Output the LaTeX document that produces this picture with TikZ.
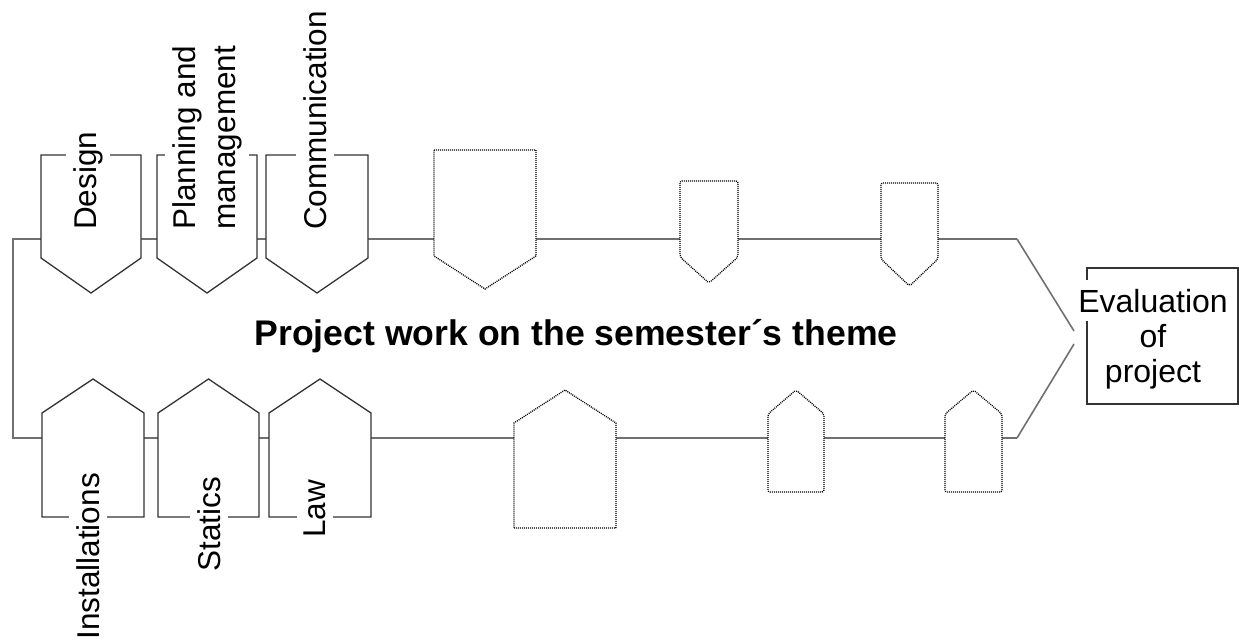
\documentclass[tikz,border=0pt]{standalone}
\usepackage{fontspec}
\setmainfont{Liberation Sans}
\definecolor{trackgray}{HTML}{707070}
\definecolor{edgegray}{HTML}{333333}
% pentagon tag: style, left, right, flat end, shoulder, point
\newcommand{\tagshape}[6]{
  \draw[#1] (#2,#4) -- (#3,#4) -- (#3,#5) -- ({(#2+#3)/2},#6) -- (#2,#5) -- cycle;
}
\tikzset{
  track/.style={draw=trackgray, line width=2.6pt},
  solidtag/.style={draw=edgegray, fill=white, line width=1.3pt},
  dottag/.style={draw=black, fill=white, line width=1.3pt, dash pattern=on 1pt off 1pt},
  lbl/.style={rotate=90, fill=white, inner sep=7pt, font=\fontsize{31.5}{40}\selectfont}
}

\begin{document}
\begin{tikzpicture}[x=1pt, y=-1pt]
    \useasboundingbox (0,0) rectangle (1239,643);
    % track
    \coordinate (tl) at (13,239);
    \coordinate (tr) at (1017,239);
    \coordinate (bl) at (13,438);
    \coordinate (br) at (1017,438);
    \coordinate (tipa) at (1074,331);
    \coordinate (tipb) at (1074,344);
    \draw[track, line join=miter] (tr) -- (tl) -- (bl) -- (br);
    \draw[draw=trackgray, line width=1.6pt] (tr) -- (tipa);
    \draw[draw=trackgray, line width=1.6pt] (tipb) -- (br);

    % subject tags
    \tagshape{solidtag}{41}{141}{155}{258}{293}
    \tagshape{solidtag}{157}{257}{155}{258}{293}
    \tagshape{solidtag}{266}{368}{155}{258}{293}
    \tagshape{solidtag}{42}{144}{517}{413}{379}
    \tagshape{solidtag}{158}{259}{517}{413}{379}
    \tagshape{solidtag}{269}{371}{517}{413}{379}

    % empty tags
    \tagshape{dottag}{434}{536}{150}{256}{289}
    \foreach \l/\r/\t/\s/\p in {680/738/181/257/283, 881/938/183/259/286} {
      \tagshape{dottag, rounded corners=2pt}{\l}{\r}{\t}{\s}{\p}
    }
    \tagshape{dottag}{514}{616}{528}{423}{390}
    \foreach \l/\r in {768/824, 945/1002} {
      \tagshape{dottag, rounded corners=2pt}{\l}{\r}{492}{414}{390}
    }

    % labels
    \node[lbl, anchor=west] (design) at (88,237) {Design};
    \node[lbl, anchor=west, align=left] (planning) at (207,237) {Planning and\\management};
    \node[lbl, anchor=west] (comm) at (315,237) {Communication};
    \node[lbl, anchor=east] (inst) at (88,466) {Installations};
    \node[lbl, anchor=east] (statics) at (209,470) {Statics};
    \node[lbl, anchor=east] (law) at (315,473) {Law};

    \node[anchor=base, inner sep=0, font=\fontsize{35.6}{42}\selectfont\bfseries] (theme) at (576,345) {Project work on the semester´s theme};

    % evaluation box
    \draw[draw=edgegray, line width=1.3pt] (1087,280) -- (1087,268) -- (1238,268) -- (1238,404) -- (1087,404) -- (1087,321);
    \node[anchor=north, inner sep=0, align=center, font=\fontsize{32}{35}\selectfont] (evaltext) at (1153,289) {Evaluation\\of\\project};
\end{tikzpicture}
\end{document}
